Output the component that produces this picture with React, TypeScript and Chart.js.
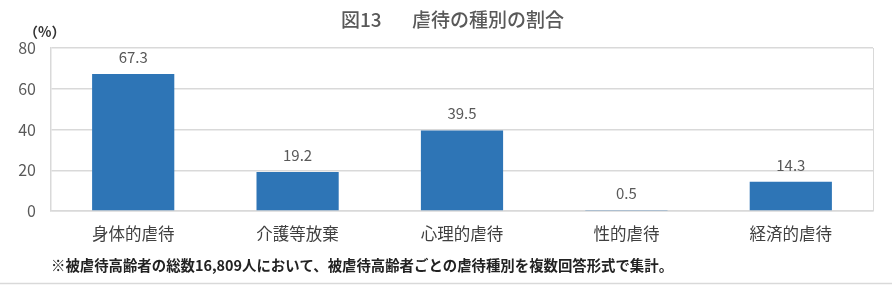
import React, { useEffect, useRef } from "react";
import { Chart, registerables } from "chart.js";

Chart.register(...registerables);

const categories = ["身体的虐待", "介護等放棄", "心理的虐待", "性的虐待", "経済的虐待"];
const values = [67.3, 19.2, 39.5, 0.5, 14.3];
const yTicks = [0, 20, 40, 60, 80];
const titleFig = "図13";
const titleText = "虐待の種別の割合";
const unitLabel = "（%）";
const footnote = "※被虐待高齢者の総数16,809人において、被虐待高齢者ごとの虐待種別を複数回答形式で集計。";

const FONT = '"Noto Sans CJK JP", "Noto Sans", sans-serif';
const TEXT = "#595959";
const GRID = "#d9d9d9";
const BAR = "#2e75b6";

const overlay = {
  id: "overlay",
  afterDraw(chart: any) {
    const ctx = chart.ctx;
    const meta = chart.getDatasetMeta(0);
    ctx.save();
    // data labels
    ctx.fillStyle = TEXT;
    ctx.font = `15px ${FONT}`;
    ctx.textAlign = "center";
    ctx.textBaseline = "middle";
    meta.data.forEach((el: any, i: number) => {
      ctx.fillText(String(values[i].toFixed(1)), el.x, el.y - 17);
    });
    // title
    ctx.font = `500 19px ${FONT}`;
    ctx.textAlign = "left";
    ctx.fillText(titleFig, 341, 20);
    ctx.fillText(titleText, 412, 20);
    // unit
    ctx.font = `bold 14px ${FONT}`;
    ctx.fillStyle = "#333";
    ctx.fillText(unitLabel, 24, 32);
    // footnote
    ctx.font = `bold 14.4px ${FONT}`;
    ctx.fillStyle = "#222";
    ctx.fillText(footnote, 51, 266);
    // bottom rule
    ctx.strokeStyle = GRID;
    ctx.lineWidth = 1.5;
    ctx.beginPath();
    ctx.moveTo(0, 283.5);
    ctx.lineTo(892, 283.5);
    ctx.stroke();
    // right border of plot
    const a = chart.chartArea;
    ctx.lineWidth = 1;
    ctx.beginPath();
    ctx.moveTo(Math.round(a.right) + 0.5, a.top);
    ctx.lineTo(Math.round(a.right) + 0.5, a.bottom);
    ctx.stroke();
    ctx.restore();
  },
};

export default function App() {
  const ref = useRef<HTMLCanvasElement>(null);
  useEffect(() => {
    const chart = new Chart(ref.current!, {
      type: "bar",
      data: {
        labels: categories,
        datasets: [
          {
            data: values,
            backgroundColor: BAR,
            barPercentage: 0.5,
            categoryPercentage: 1,
          },
        ],
      },
      options: {
        responsive: false,
        animation: false,
        layout: { padding: { left: 0, top: 48, right: 19, bottom: 0 } },
        plugins: { legend: { display: false }, tooltip: { enabled: false }, title: { display: false } },
        scales: {
          x: {
            grid: { display: false, drawTicks: false },
            border: { color: GRID, width: 1.5 },
            ticks: { color: "#404040", font: { family: FONT, size: 16.5 }, padding: 13 },
            afterFit(s: any) {
              s.height = 81;
            },
          },
          y: {
            min: 0,
            max: 80,
            afterBuildTicks(s: any) {
              s.ticks = yTicks.map((v) => ({ value: v }));
            },
            grid: { color: GRID, lineWidth: 1.5, drawTicks: false },
            border: { color: GRID, width: 1.5 },
            ticks: { color: TEXT, font: { family: FONT, size: 16 }, padding: 15 },
            afterFit(s: any) {
              s.width = 51;
            },
          },
        },
      },
      plugins: [overlay],
    });
    return () => chart.destroy();
  }, []);
  return (
    <div style={{ position: "absolute", left: 0, top: 0, width: 892, height: 292, background: "#fff" }}>
      <canvas ref={ref} width={892} height={292} />
    </div>
  );
}
